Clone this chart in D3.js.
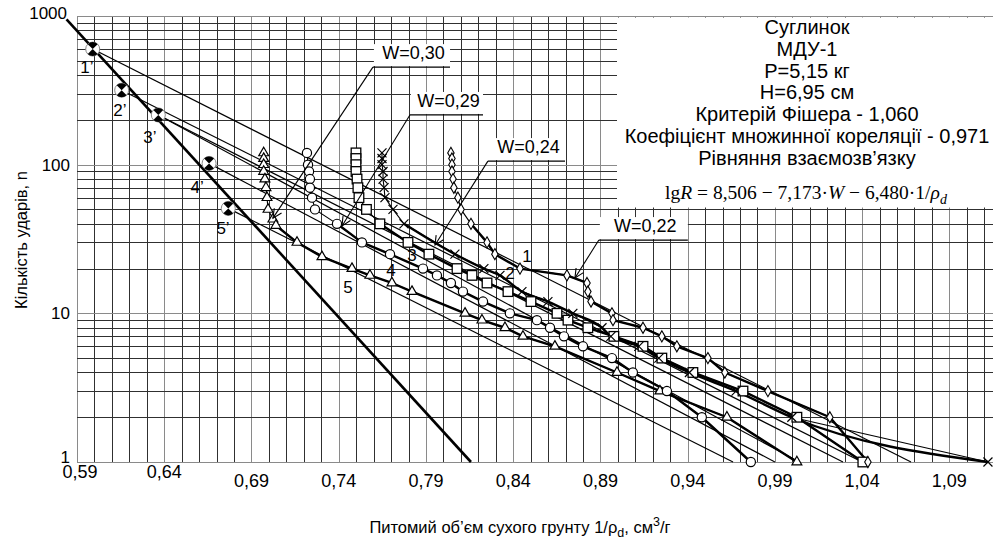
<!DOCTYPE html>
<meta charset="utf-8">
<head>
<style>
body { margin: 0; background: #fff; }
text { font-family: "Liberation Sans", Arial, sans-serif; fill: #000; }
</style>
</head>
<body>
<div id="chart"></div>
<script src="https://d3js.org/d3.v7.min.js"></script>
<script>

// axis ticks
var xTicks = [0.59, 0.64, 0.69, 0.74, 0.79, 0.84, 0.89, 0.94, 0.99, 1.04, 1.09];
var xTickLabels = ["0,59", "0,64", "0,69", "0,74", "0,79", "0,84", "0,89", "0,94", "0,99", "1,04", "1,09"];
var yTicks = [1, 10, 100, 1000];
var yTickLabels = ["1", "10", "100", "1000"];

// curve 5, W=0,30 (triangles)
var triV = [0.697, 0.697, 0.697, 0.697, 0.6977, 0.6983, 0.6989, 0.6995, 0.7023, 0.704, 0.7161, 0.7304, 0.7476, 0.7579, 0.7705, 0.782, 0.8124, 0.8221, 0.8353, 0.8456, 0.8639, 0.8995, 0.9241, 0.9625, 1.0026];
var triN = [120, 110, 100, 90, 80, 70, 60, 50, 43, 39, 30, 24, 20, 18, 16, 14, 10, 9, 8, 7, 6, 4, 3, 2, 1];

// curve 4, W=0,29 (circles)
var cirV = [0.7218, 0.7224, 0.723, 0.7235, 0.7235, 0.7247, 0.7264, 0.739, 0.7533, 0.7694, 0.7883, 0.7963, 0.8043, 0.8112, 0.8227, 0.8381, 0.8536, 0.8611, 0.8691, 0.88, 0.8966, 0.9086, 0.9281, 0.9481, 0.9762];
var cirN = [120, 100, 90, 80, 70, 60, 50, 40, 30, 25, 20, 18, 16, 14, 12, 10, 9, 8, 7, 6, 5, 4, 3, 2, 1];

// curve 3 (squares)
var sqV = [0.7499, 0.7499, 0.7499, 0.7499, 0.7505, 0.751, 0.7516, 0.7559, 0.7636, 0.7797, 0.7917, 0.8078, 0.8164, 0.825, 0.837, 0.8502, 0.8651, 0.8714, 0.8828, 0.8977, 0.9144, 0.9252, 0.943, 0.9717, 1.0026, 1.0404];
var sqN = [120, 110, 100, 90, 80, 70, 60, 50, 40, 30, 25, 20, 18, 16, 14, 12, 10, 9, 8, 7, 6, 5, 4, 3, 2, 1];

// curve 2, W=0,24 (crosses)
var crV = [0.7648, 0.7648, 0.7648, 0.7654, 0.7654, 0.766, 0.7665, 0.7711, 0.7774, 0.8066, 0.8232, 0.8324, 0.845, 0.8599, 0.8742, 0.8909, 0.896, 0.912, 0.9235, 0.941, 0.9677, 0.9997, 1.1121];
var crN = [120, 110, 100, 90, 80, 70, 60, 50, 40, 25, 20, 18, 14, 12, 10, 8, 7, 6, 5, 4, 3, 2, 1];

// curve 1, W=0,22 (diamonds)
var diaV = [0.8043, 0.8049, 0.8049, 0.8049, 0.8055, 0.806, 0.8083, 0.8101, 0.8158, 0.825, 0.8295, 0.8439, 0.8708, 0.8823, 0.8828, 0.8846, 0.8966, 0.8972, 0.9144, 0.9252, 0.9338, 0.9516, 0.9613, 0.986, 1.0215, 1.0433];
var diaN = [120, 110, 100, 90, 80, 70, 60, 50, 40, 30, 25, 20, 18, 16, 14, 12, 10, 9, 8, 7, 6, 5, 4, 3, 2, 1];

// points 1'..5' and the thick line through them
var primeV = [0.599, 0.6156, 0.6366, 0.6657, 0.6767];
var primeN = [599, 317, 216, 102, 50.8];
var primeLabels = ["1’", "2’", "3’", "4’", "5’"];
var primeLabelV = [0.5957, 0.6146, 0.6318, 0.6588, 0.6737];
var primeLabelN = [453, 233, 153, 70.7, 37.5];
var mainV = [0.584, 0.8158];
var mainN = [950, 1];

// thin straight lines from the primed points down to n = 1
var thinStartV = [0.599, 0.6156, 0.6366, 0.6366, 0.6657, 0.6767];
var thinStartN = [599, 317, 216, 216, 102, 50.8];
var thinEndV = [1.068, 1.040, 1.029, 1.004, 0.990, 0.966];

// curve numbers
var curveLabels = ["1", "2", "3", "4", "5"];
var curveLabelV = [0.8479, 0.8381, 0.782, 0.7699, 0.7453];
var curveLabelN = [24.3, 18.7, 24.7, 19.6, 15.0];

// W callouts: underline from (v0,n) to (v1,n), arrow from (v0,n) to tip
var wLabels = ["W=0,30", "W=0,29", "W=0,24", "W=0,22"];
var wLineV0 = [0.7596, 0.7808, 0.8255, 0.8891];
var wLineV1 = [0.8038, 0.8227, 0.8697, 0.9401];
var wLineN = [453, 216, 105.7, 31.1];
var wTipV = [0.7023, 0.7419, 0.7952, 0.8754];
var wTipN = [43.7, 38.7, 28.8, 17.3];

var infoLines = ["Суглинок", "МДУ-1", "P=5,15 кг", "H=6,95 см", "Критерій Фішера - 1,060", "Коефіцієнт множинної кореляції - 0,971", "Рівняння взаємозв’язку"];

var width = 993, height = 546;
var svg = d3.select("#chart").append("svg")
    .attr("width", width)
    .attr("height", height);

var x = d3.scaleLinear().domain([0.59, 1.115]).range([77, 993]);
var y = d3.scaleLog().domain([1, 1000]).range([462, 16]);

// grid
var gridV = d3.range(0, 53).map(function(i) { return +(0.59 + i * 0.01).toFixed(2); });
var gridN = [];
[1, 10, 100].forEach(function(d) { for (var k = 1; k <= 9; k++) gridN.push(k * d); });
gridN.push(1000);

var grid = svg.append("g").attr("shape-rendering", "crispEdges");
grid.selectAll(".gv").data(gridV).enter().append("line")
    .attr("x1", function(d) { return Math.round(x(d)) + 0.5; })
    .attr("x2", function(d) { return Math.round(x(d)) + 0.5; })
    .attr("y1", y(1000)).attr("y2", y(1))
    .attr("stroke", function(d, i) { return i % 5 == 0 ? "#8a8a8a" : "#303030"; });
grid.selectAll(".gh").data(gridN).enter().append("line")
    .attr("x1", x(0.59)).attr("x2", width)
    .attr("y1", function(d) { return Math.round(y(d)) + 0.5; })
    .attr("y2", function(d) { return Math.round(y(d)) + 0.5; })
    .attr("stroke", function(d) { return [1, 10, 100, 1000].indexOf(d) >= 0 ? "#8a8a8a" : "#303030"; });

// white info box top right
svg.append("rect")
    .attr("x", 617).attr("y", y(1000) + 1.5)
    .attr("width", width - 617).attr("height", 190)
    .attr("fill", "#fff");

// tick labels
svg.append("g").selectAll("text").data(xTicks).enter().append("text")
    .attr("x", function(d, i) { return x(d) + (i == 0 ? 3 : 0); })
    .attr("y", function(d, i) { return i < 2 ? 478 : 487; })
    .attr("text-anchor", "middle")
    .style("font-size", "18px")
    .text(function(d, i) { return xTickLabels[i]; });
svg.append("g").selectAll("text").data(yTicks).enter().append("text")
    .attr("x", function(d) { return d == 1000 ? 67 : 70; })
    .attr("y", function(d) { return d == 1 ? 463 : y(d) + 6 + (d == 1000 ? -3 : 0); })
    .attr("text-anchor", "end")
    .style("font-size", "17px")
    .text(function(d, i) { return yTickLabels[i]; });

// axis titles
svg.append("text")
    .attr("transform", "translate(27,240) rotate(-90)")
    .attr("text-anchor", "middle")
    .style("font-size", "16.5px")
    .text("Кількість ударів, n");
var xt = svg.append("text")
    .attr("x", 520).attr("y", 533)
    .attr("text-anchor", "middle")
    .style("font-size", "16.5px");
xt.append("tspan").text("Питомий об’єм сухого грунту 1/ρ");
xt.append("tspan").attr("dy", 4).style("font-size", "12.5px").text("d");
xt.append("tspan").attr("dy", -4).text(", см");
xt.append("tspan").attr("dy", -7).style("font-size", "12.5px").text("3");
xt.append("tspan").attr("dy", 7).text("/г");

// thin straight lines
var thin = svg.append("g");
thinStartV.forEach(function(v, i) {
  thin.append("line")
      .attr("x1", x(v)).attr("y1", y(thinStartN[i]))
      .attr("x2", x(thinEndV[i])).attr("y2", y(1))
      .attr("stroke", "#000").attr("stroke-width", 1.2);
});

// thick main line
svg.append("line")
    .attr("x1", x(mainV[0])).attr("y1", y(mainN[0]))
    .attr("x2", x(mainV[1])).attr("y2", y(mainN[1]))
    .attr("stroke", "#000").attr("stroke-width", 2.6);

// series
function makeSeries(vs, ns) {
  return vs.map(function(v, i) { return {v: v, n: ns[i]}; });
}
var series = [
  {data: makeSeries(triV, triN), mark: "tri"},
  {data: makeSeries(cirV, cirN), mark: "cir"},
  {data: makeSeries(sqV, sqN), mark: "sq"},
  {data: makeSeries(crV, crN), mark: "cr"},
  {data: makeSeries(diaV, diaN), mark: "dia"}
];

var line = d3.line().x(function(d) { return x(d.v); }).y(function(d) { return y(d.n); });
var smooth = d3.line().x(function(d) { return x(d.v); }).y(function(d) { return y(d.n); }).curve(d3.curveMonotoneX);

series.forEach(function(s) {
  svg.append("path").attr("d", line(s.data))
      .attr("fill", "none").attr("stroke", "#000").attr("stroke-width", 1.1);
  var low = s.data.filter(function(d) { return d.n <= 40; });
  svg.append("path").attr("d", (s.mark == "cr" ? smooth : line)(low))
      .attr("fill", "none").attr("stroke", "#000").attr("stroke-width", 2.4)
      .attr("stroke-linejoin", "round");
});

// markers
series.forEach(function(s) {
  var g = svg.append("g");
  s.data.forEach(function(d) {
    var cx = x(d.v), cy = y(d.n);
    if (s.mark == "tri") {
      g.append("path").attr("d", d3.symbol().type(d3.symbolTriangle).size(42)())
          .attr("transform", "translate(" + cx + "," + cy + ")")
          .attr("fill", "#fff").attr("stroke", "#000").attr("stroke-width", 1.2);
    } else if (s.mark == "cir") {
      g.append("circle").attr("cx", cx).attr("cy", cy).attr("r", 4.6)
          .attr("fill", "#fff").attr("stroke", "#000").attr("stroke-width", 1.2);
    } else if (s.mark == "sq") {
      g.append("rect").attr("x", cx - 4.8).attr("y", cy - 4.8).attr("width", 9.6).attr("height", 9.6)
          .attr("fill", "#fff").attr("stroke", "#000").attr("stroke-width", 1.3);
    } else if (s.mark == "dia") {
      g.append("path").attr("d", d3.symbol().type(d3.symbolDiamond).size(36)())
          .attr("transform", "translate(" + cx + "," + cy + ")")
          .attr("fill", "#fff").attr("stroke", "#000").attr("stroke-width", 1.1);
    } else {
      g.append("path").attr("d", "M-4.5,-4.5L4.5,4.5M-4.5,4.5L4.5,-4.5")
          .attr("transform", "translate(" + cx + "," + cy + ")")
          .attr("fill", "none").attr("stroke", "#000").attr("stroke-width", 1.2);
    }
  });
});

// primed points
var wedge = d3.arc().innerRadius(0).outerRadius(7);
primeV.forEach(function(v, i) {
  var g = svg.append("g").attr("transform", "translate(" + x(v) + "," + y(primeN[i]) + ")");
  g.append("circle").attr("r", 7).attr("fill", "#fff").attr("stroke", "#888").attr("stroke-width", 1);
  g.append("path").attr("d", wedge({startAngle: -Math.PI / 4, endAngle: Math.PI / 4})).attr("fill", "#000");
  g.append("path").attr("d", wedge({startAngle: 3 * Math.PI / 4, endAngle: 5 * Math.PI / 4})).attr("fill", "#000");
  svg.append("text")
      .attr("x", x(primeLabelV[i])).attr("y", y(primeLabelN[i]) + 6)
      .attr("text-anchor", "middle")
      .style("font-size", "17px")
      .text(primeLabels[i]);
});

// curve numbers
curveLabels.forEach(function(t, i) {
  svg.append("text")
      .attr("x", x(curveLabelV[i])).attr("y", y(curveLabelN[i]) + 6)
      .attr("text-anchor", "middle")
      .style("font-size", "17px")
      .text(t);
});

// W callouts
wLabels.forEach(function(t, i) {
  var x0 = x(wLineV0[i]), x1 = x(wLineV1[i]), yy = y(wLineN[i]);
  var xt = x(wTipV[i]), yt = y(wTipN[i]);
  svg.append("rect").attr("x", x0 + 1).attr("y", yy - 23).attr("width", x1 - x0 - 1).attr("height", 22)
      .attr("fill", "#fff");
  svg.append("text").attr("x", (x0 + x1) / 2 + 2).attr("y", yy - 8)
      .attr("text-anchor", "middle").style("font-size", "18px").text(t);
  svg.append("line").attr("x1", x0).attr("y1", yy).attr("x2", x1).attr("y2", yy)
      .attr("stroke", "#000").attr("stroke-width", 1.2);
  svg.append("line").attr("x1", x0).attr("y1", yy).attr("x2", xt).attr("y2", yt)
      .attr("stroke", "#000").attr("stroke-width", 1.1);
  var ang = Math.atan2(yy - yt, x0 - xt), a = 0.45, L = 10;
  svg.append("path")
      .attr("d", "M" + (xt + L * Math.cos(ang - a)) + "," + (yt + L * Math.sin(ang - a)) +
                 "L" + xt + "," + yt +
                 "L" + (xt + L * Math.cos(ang + a)) + "," + (yt + L * Math.sin(ang + a)))
      .attr("fill", "none").attr("stroke", "#000").attr("stroke-width", 1.1);
});

// info text
infoLines.forEach(function(t, i) {
  svg.append("text")
      .attr("x", 807).attr("y", 34 + i * 21.8)
      .attr("text-anchor", "middle")
      .style("font-size", "20px")
      .text(t);
});
var eq = svg.append("text")
    .attr("x", 806).attr("y", 199)
    .attr("text-anchor", "middle")
    .style("font-family", "'Liberation Serif', 'Times New Roman', serif")
    .style("font-size", "19.5px");
eq.append("tspan").text("lg");
eq.append("tspan").style("font-style", "italic").text("R");
eq.append("tspan").text(" = 8,506 − 7,173·");
eq.append("tspan").style("font-style", "italic").text("W");
eq.append("tspan").text(" − 6,480·1/");
eq.append("tspan").style("font-style", "italic").text("ρ");
eq.append("tspan").attr("dy", 5).style("font-style", "italic").style("font-size", "14px").text("d");

</script>
</body>
